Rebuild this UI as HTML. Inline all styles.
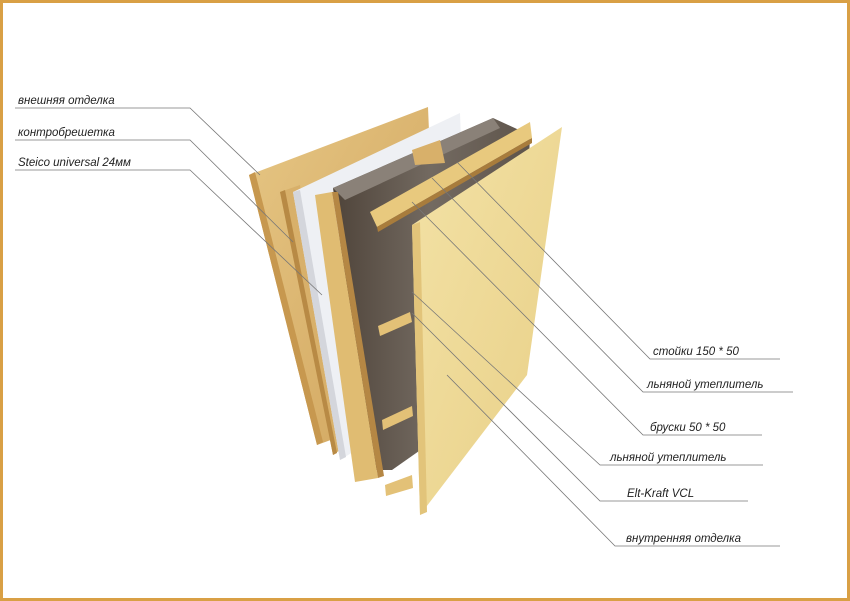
<!DOCTYPE html>
<html><head><meta charset="utf-8"><style>
html,body{margin:0;padding:0;background:#fff}
svg{display:block}
text{font-family:"Liberation Sans",sans-serif;font-style:italic;font-size:11.5px;fill:#222}
</style></head><body>
<svg width="850" height="601" viewBox="0 0 850 601" xmlns="http://www.w3.org/2000/svg">
<defs>
<linearGradient id="wood" x1="0" y1="0" x2="1" y2="1"><stop offset="0" stop-color="#e6c684"/><stop offset="1" stop-color="#cfa25a"/></linearGradient>
<linearGradient id="ply" x1="0" y1="0" x2="1" y2="1"><stop offset="0" stop-color="#f3e2a6"/><stop offset="1" stop-color="#e8cf86"/></linearGradient>
<linearGradient id="ins" x1="0" y1="0" x2="1" y2="0"><stop offset="0" stop-color="#4f443a"/><stop offset="0.5" stop-color="#736a61"/><stop offset="1" stop-color="#5e544b"/></linearGradient>
</defs>
<rect x="1.5" y="1.5" width="847" height="598" fill="#fff" stroke="#d9a045" stroke-width="3"/>
<polygon points="249,175 428,107 440,400 317,445" fill="url(#wood)"/>
<polygon points="249,175 255,172 323,442 317,445" fill="#c7984f"/>
<polygon points="280,192 300,185 340,450 333,455" fill="#d8b06a"/>
<polygon points="280,192 285,190 337,453 333,455" fill="#b88a45"/>
<polygon points="293,192 460,113 470,380 340,460" fill="#eef0f4"/>
<polygon points="293,192 300,190 346,457 340,460" fill="#d4d6dc"/>
<polygon points="333,188 493,118 530,135 520,380 392,470 370,470" fill="url(#ins)"/>
<polygon points="333,188 493,118 500,128 345,200" fill="#8a8178"/>
<polygon points="315,195 332,192 378,478 355,482" fill="#e0bc72"/>
<polygon points="332,192 338,192 384,476 378,478" fill="#b58744"/>
<polygon points="370,212 530,122 532,138 377,227" fill="#e8c97e"/>
<polygon points="377,227 532,138 532,143 378,232" fill="#a87c3c"/>
<polygon points="412,150 440,140 445,163 415,165" fill="#d8b06a"/>
<polygon points="378,326 410,312 412,322 380,336" fill="#e3c177"/>
<polygon points="382,420 412,406 413,416 383,430" fill="#e3c177"/>
<polygon points="385,485 412,475 413,488 386,496" fill="#e3c177"/>
<polygon points="412,225 562,127 527,375 420,515" fill="url(#ply)"/>
<polygon points="412,225 420,222 427,512 420,515" fill="#e2c47a"/>
<g stroke="#777" stroke-width="0.8" fill="none">
<polyline points="15,108 190,108 260,175"/>
<polyline points="15,140 190,140 293,242"/>
<polyline points="15,170 190,170 322,295"/>
<polyline points="457,162 650,359 780,359"/>
<polyline points="432,178 643,392 793,392"/>
<polyline points="412,202 643,435 762,435"/>
<polyline points="412,292 600,465 763,465"/>
<polyline points="412,313 600,501 748,501"/>
<polyline points="447,375 615,546 780,546"/>
</g>
<text x="18" y="104">внешняя отделка</text>
<text x="18" y="136">контробрешетка</text>
<text x="18" y="166">Steico universal 24мм</text>
<text x="653" y="355">стойки 150 * 50</text>
<text x="647" y="388">льняной утеплитель</text>
<text x="650" y="431">бруски 50 * 50</text>
<text x="610" y="461">льняной утеплитель</text>
<text x="627" y="497">Elt-Kraft VCL</text>
<text x="626" y="542">внутренняя отделка</text>
</svg>
</body></html>
